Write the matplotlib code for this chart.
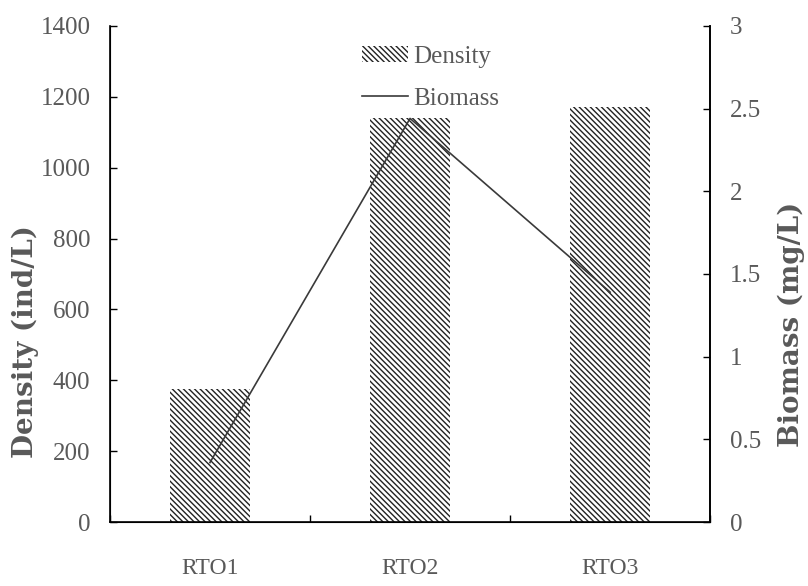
import matplotlib.pyplot as plt
import numpy as np

# sampling sites, zooplankton density and biomass
sites = ["RTO1", "RTO2", "RTO3"]
density = [375, 1140, 1170]
biomass = [0.36, 2.44, 1.39]

density_ticks = [0, 200, 400, 600, 800, 1000, 1200, 1400]
biomass_ticks = [0, 0.5, 1, 1.5, 2, 2.5, 3]
biomass_labels = ["0", "0.5", "1", "1.5", "2", "2.5", "3"]

plt.rcParams['font.family'] = ['Liberation Serif', 'DejaVu Serif']
plt.rcParams['hatch.linewidth'] = 1.0
grey = '#595959'

fig, ax = plt.subplots(figsize=(8.08, 5.86), dpi=100)
fig.subplots_adjust(left=0.136, right=0.879, top=0.956, bottom=0.109)

x = np.arange(len(sites))
bars = ax.bar(x, density, width=0.4, color='white', edgecolor='#222222',
              linewidth=0, hatch='\\\\\\\\\\\\', label='Density', zorder=2)

ax.set_xlim(-0.5, 2.5)
ax.set_ylim(0, 1400)
ax.set_yticks(density_ticks)
ax.tick_params(axis='y', direction='in', length=5, width=1, labelsize=18,
               labelcolor=grey, pad=14)
ax.set_ylabel("Density (ind/L)", fontsize=20, fontweight='bold', color=grey,
              family='DejaVu Serif')
ax.yaxis.set_label_coords(-0.118, 0.363)

# category boundaries get the ticks, names sit in the middle
ax.set_xticks([-0.5, 0.5, 1.5, 2.5])
ax.set_xticklabels([])
ax.set_xticks(x, minor=True)
ax.set_xticklabels(sites, minor=True)
ax.tick_params(axis='x', which='major', direction='in', length=5, width=1)
ax.tick_params(axis='x', which='minor', length=0, labelsize=17,
               labelcolor=grey, pad=26)

ax.spines['top'].set_visible(False)
for s in ['left', 'right', 'bottom']:
    ax.spines[s].set_linewidth(1.2)

ax2 = ax.twinx()
line, = ax2.plot(x, biomass, color='#3a3a3a', linewidth=1.2, label='Biomass',
                 zorder=3)
ax2.set_ylim(0, 3)
ax2.set_yticks(biomass_ticks)
ax2.set_yticklabels(biomass_labels)
ax2.tick_params(axis='y', direction='in', length=5, width=1, labelsize=18,
                labelcolor=grey, pad=14)
ax2.set_ylabel("Biomass (mg/L)", fontsize=20, fontweight='bold', color=grey,
               family='DejaVu Serif')
ax2.yaxis.set_label_coords(1.112, 0.399)
ax2.spines['top'].set_visible(False)
ax2.spines['right'].set_linewidth(1.2)

leg = ax2.legend([bars, line], ['Density', 'Biomass'], loc='upper left',
                 bbox_to_anchor=(0.42, 0.96), frameon=False, fontsize=18,
                 borderpad=0, borderaxespad=0,
                 handlelength=1.85, handleheight=0.6, handletextpad=0.2,
                 labelspacing=0.8)
for t in leg.get_texts():
    t.set_color(grey)

fig.savefig('out.png', dpi=100)
